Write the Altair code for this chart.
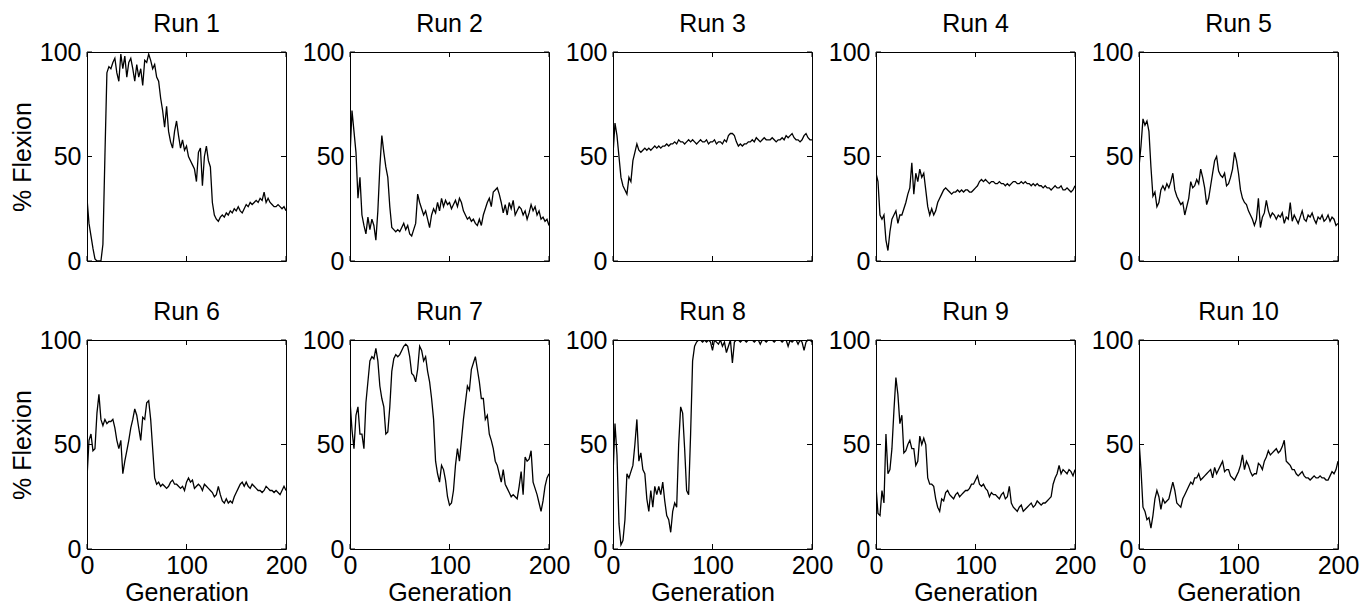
import altair as alt
import pandas as pd

generation = list(range(0, 201, 2))

run_1 = [
    30, 18, 12, 6, 1, 0, 0, 0, 8, 50,
    90, 93, 92, 95, 97, 90, 86, 99, 92, 98,
    88, 95, 97, 92, 86, 94, 88, 92, 84, 96,
    95, 99, 96, 92, 94, 88, 86, 78, 72, 64,
    74, 62, 57, 54, 62, 67, 60, 54, 58, 53,
    55, 50, 48, 46, 44, 38, 52, 54, 36, 50,
    55, 48, 45, 28, 22, 20, 19, 21, 22, 21,
    23, 22, 24, 23, 25, 24, 26, 24, 23, 25,
    27, 26, 28, 27, 28, 29, 28, 30, 29, 33,
    28, 30, 28, 27, 26, 26, 27, 26, 25, 26,
    24,
]
run_2 = [
    50, 72, 62, 52, 30, 40, 22, 17, 13, 21,
    15, 20, 17, 10, 24, 45, 60, 52, 45, 40,
    26, 16, 15, 14, 15, 14, 16, 18, 15, 17,
    13, 12, 15, 18, 32, 28, 25, 22, 24, 20,
    16, 22, 25, 23, 28, 24, 30, 26, 29, 27,
    28, 25, 27, 29, 26, 30, 28, 24, 22, 20,
    21, 19, 20, 18, 17, 20, 17, 22, 25, 28,
    30, 26, 33, 34, 35, 32, 28, 23, 27, 22,
    28, 25, 29, 22, 24, 26, 25, 22, 24, 20,
    23, 27, 24, 26, 22, 24, 20, 21, 19, 20,
    17,
]
run_3 = [
    51, 66, 60, 50, 40, 36, 34, 32, 40, 38,
    48, 52, 56, 53, 52, 53, 54, 53, 54, 53,
    54, 55, 54, 55, 54, 55, 55, 56, 55, 56,
    56, 57, 56, 58, 57, 57, 56, 57, 58, 57,
    58, 57, 56, 57, 58, 57, 57, 58, 56, 57,
    57, 58, 56, 57, 57, 56, 58, 57, 60, 61,
    61, 60, 57, 55, 56, 55, 56, 56, 57, 57,
    58, 57, 59, 58, 57, 58, 59, 58, 58, 58,
    59, 58, 57, 58, 58, 59, 58, 60, 59, 60,
    61, 59, 58, 58, 57, 58, 60, 61, 59, 58,
    58,
]
run_4 = [
    42, 38, 22, 20, 22, 10, 5, 14, 20, 22,
    24, 18, 22, 22, 25, 28, 32, 35, 47, 32,
    42, 38, 44, 40, 42, 34, 26, 22, 25, 22,
    24, 28, 30, 32, 34, 35, 34, 33, 32, 33,
    33, 34, 33, 34, 33, 34, 34, 33, 33, 34,
    35, 36, 38, 39, 38, 39, 38, 37, 38, 38,
    37, 37, 38, 37, 37, 36, 37, 36, 37, 38,
    38, 37, 37, 38, 37, 38, 37, 37, 36, 37,
    36, 37, 36, 36, 35, 36, 35, 35, 34, 35,
    36, 35, 35, 36, 34, 34, 35, 34, 33, 34,
    36,
]
run_5 = [
    45, 55, 68, 65, 67, 62, 45, 31, 33, 26,
    28, 34, 36, 34, 37, 35, 38, 42, 34, 31,
    29, 27, 28, 22, 26, 30, 38, 35, 36, 39,
    37, 44, 40, 35, 27, 30, 36, 42, 48, 50,
    43, 41, 40, 42, 36, 37, 40, 44, 52, 48,
    42, 34, 30, 28, 27, 24, 22, 20, 17, 20,
    30, 16, 21, 23, 29, 24, 21, 23, 22, 20,
    22, 21, 23, 18, 21, 20, 28, 19, 22, 20,
    18, 21, 24, 20, 19, 22, 21, 23, 20, 18,
    21, 20, 22, 19, 20, 22, 19, 21, 20, 17,
    18,
]
run_6 = [
    34, 52, 55, 47, 48, 65, 74, 62, 59, 62,
    60, 61, 61, 62, 58, 52, 48, 52, 36, 42,
    47, 52, 58, 62, 67, 64, 58, 52, 63, 62,
    70, 71, 62, 48, 34, 31, 32, 30, 31, 30,
    29, 30, 32, 33, 31, 31, 30, 29, 30, 28,
    32, 34, 32, 33, 29, 30, 31, 30, 28, 31,
    30, 29, 28, 27, 25, 26, 30, 26, 23, 22,
    24, 22, 23, 22, 25, 27, 29, 31, 32, 30,
    32, 30, 29, 31, 30, 29, 28, 28, 27, 28,
    30, 29, 28, 28, 27, 28, 27, 26, 28, 30,
    28,
]
run_7 = [
    71, 57, 48, 64, 68, 55, 55, 48, 70, 80,
    90, 92, 91, 96, 90, 78, 72, 68, 55, 56,
    68, 85, 91, 93, 92, 93, 95, 97, 98, 97,
    92, 84, 83, 80, 86, 97, 95, 90, 92, 85,
    80, 72, 62, 42, 36, 32, 40, 38, 33, 25,
    21, 22, 28, 40, 48, 42, 52, 62, 70, 78,
    76, 86, 89, 92, 86, 80, 72, 72, 62, 64,
    55, 52, 48, 42, 40, 36, 32, 38, 31, 29,
    27, 25, 26, 25, 24, 30, 37, 26, 44, 42,
    43, 47, 32, 29, 26, 22, 18, 23, 30, 34,
    36,
]
run_8 = [
    35, 60, 45, 12, 2, 4, 14, 36, 34, 37,
    40, 50, 62, 42, 46, 38, 36, 24, 18, 28,
    20, 30, 26, 30, 26, 32, 23, 16, 14, 8,
    18, 22, 20, 50, 68, 65, 48, 28, 26, 55,
    90, 97, 99, 100, 100, 99, 100, 99, 100, 99,
    95, 100, 99, 98, 100, 97, 99, 94, 97, 100,
    89, 99, 100, 100, 99, 100, 100, 99, 100, 100,
    100, 99, 100, 100, 98, 100, 100, 99, 100, 100,
    100, 99, 100, 100, 100, 99, 100, 100, 97, 100,
    99, 100, 100, 98, 100, 99, 95, 99, 100, 100,
    99,
]
run_9 = [
    30, 17, 16, 28, 22, 55, 36, 38, 48, 66,
    82, 74, 60, 64, 46, 47, 50, 52, 48, 48,
    40, 42, 54, 50, 53, 50, 34, 31, 31, 30,
    24, 20, 18, 24, 23, 27, 28, 26, 25, 24,
    26, 27, 25, 26, 27, 28, 28, 29, 31, 31,
    33, 35, 31, 30, 31, 29, 28, 25, 27, 26,
    26, 25, 24, 26, 27, 24, 25, 30, 22, 20,
    19, 18, 20, 21, 18, 19, 20, 21, 22, 20,
    21, 23, 22, 21, 22, 22, 23, 24, 25, 31,
    34, 36, 40, 36, 38, 37, 36, 38, 37, 35,
    38,
]
run_10 = [
    52, 38, 20, 18, 14, 15, 10, 16, 24, 28,
    25, 19, 24, 22, 23, 24, 28, 32, 28, 22,
    21, 20, 24, 26, 28, 30, 32, 31, 34, 34,
    36, 33, 34, 35, 36, 37, 38, 34, 39, 36,
    38, 40, 42, 37, 38, 38, 35, 34, 33, 35,
    37, 40, 45, 38, 42, 40, 37, 35, 36, 36,
    41, 40, 38, 42, 44, 47, 45, 46, 47, 48,
    46, 47, 49, 52, 42, 41, 40, 38, 38, 36,
    35, 36, 37, 35, 34, 34, 33, 34, 35, 34,
    34, 35, 34, 34, 33, 33, 35, 37, 36, 38,
    42,
]

runs = [run_1, run_2, run_3, run_4, run_5, run_6, run_7, run_8, run_9, run_10]
titles = ["Run 1", "Run 2", "Run 3", "Run 4", "Run 5",
          "Run 6", "Run 7", "Run 8", "Run 9", "Run 10"]
x_ticks = [0, 100, 200]
y_ticks = [0, 50, 100]

FONT = "Liberation Sans"
W, H = 199, 209
TL = 5  # inward tick length

xscale = alt.Scale(domain=[0, 200], nice=False, zero=False)
yscale = alt.Scale(domain=[0, 100], nice=False)


def panel(i):
    row, col = divmod(i, 5)
    df = pd.DataFrame({"Generation": generation, "Flexion": runs[i]})
    if row == 1:
        xaxis = alt.Axis(values=x_ticks, title="Generation", labelFlush=False,
                         labelPadding=4, titlePadding=2, format="d")
    else:
        xaxis = None
    yaxis = alt.Axis(values=y_ticks, title="% Flexion" if col == 0 else None,
                     labelPadding=6, titlePadding=4, labelFlush=False, format="d")
    line = alt.Chart(df).mark_line(color="black", strokeWidth=1.3, clip=True).encode(
        x=alt.X("Generation:Q", scale=xscale, axis=xaxis),
        y=alt.Y("Flexion:Q", scale=yscale, axis=yaxis),
    )
    xt = pd.DataFrame({"Generation": x_ticks})
    yt = pd.DataFrame({"Flexion": y_ticks})
    xb = alt.Chart(xt).mark_rule(color="black", strokeWidth=1).encode(
        x=alt.X("Generation:Q", scale=xscale, axis=xaxis),
        y=alt.value(H), y2=alt.value(H - TL))
    xtop = alt.Chart(xt).mark_rule(color="black", strokeWidth=1).encode(
        x=alt.X("Generation:Q", scale=xscale, axis=xaxis),
        y=alt.value(0), y2=alt.value(TL))
    yl = alt.Chart(yt).mark_rule(color="black", strokeWidth=1).encode(
        y=alt.Y("Flexion:Q", scale=yscale, axis=yaxis),
        x=alt.value(0), x2=alt.value(TL))
    yr = alt.Chart(yt).mark_rule(color="black", strokeWidth=1).encode(
        y=alt.Y("Flexion:Q", scale=yscale, axis=yaxis),
        x=alt.value(W), x2=alt.value(W - TL))
    return alt.layer(line, xb, xtop, yl, yr).properties(
        width=W, height=H,
        title=alt.TitleParams(titles[i], anchor="middle"),
    )


panels = [panel(i) for i in range(10)]

chart = alt.concat(
    *panels, columns=5, bounds="flush",
    spacing={"row": 79, "column": 64},
).properties(
    padding={"left": 1, "top": 3, "right": 2, "bottom": 0},
    background="white",
).configure_view(
    stroke="black", strokeWidth=1,
).configure_axis(
    labelFont=FONT, titleFont=FONT, labelFontSize=25, titleFontSize=25,
    labelColor="black", titleColor="black", titleFontWeight="normal",
    grid=False, ticks=False, domain=False,
).configure_title(
    font=FONT, fontSize=25, fontWeight="normal", color="black", offset=3,
)

chart.save("out.html", embed_options={"renderer": "svg", "actions": False})
